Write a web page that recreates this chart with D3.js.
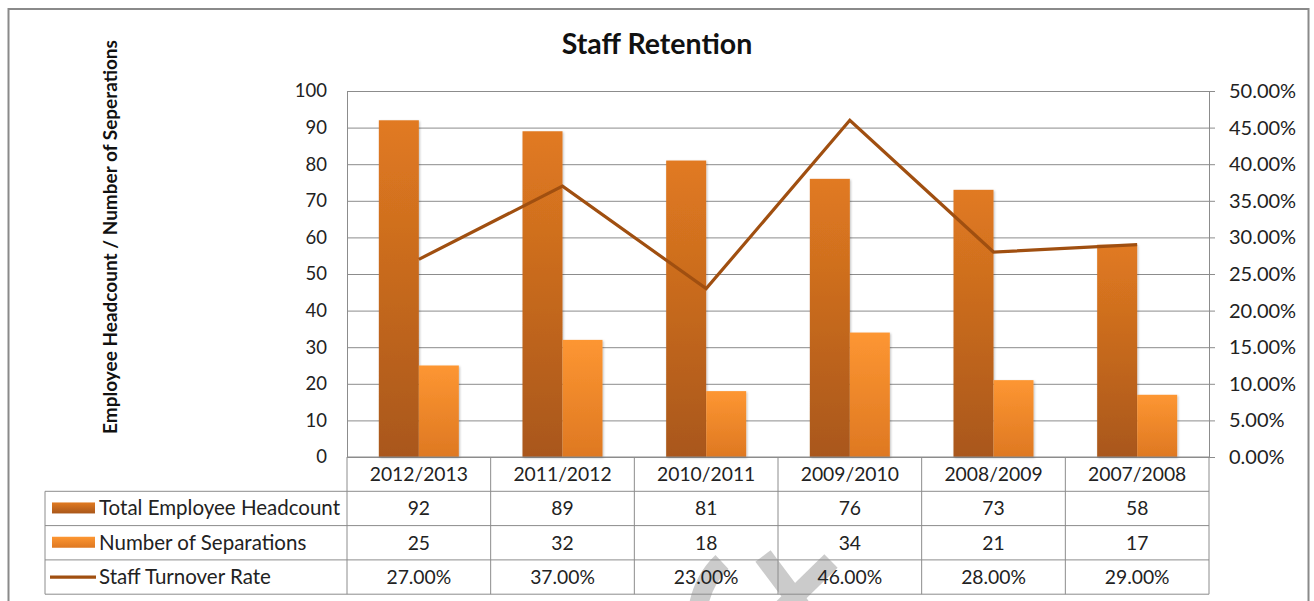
<!DOCTYPE html>
<html>
<head>
<meta charset="utf-8">
<script src="https://cdn.jsdelivr.net/npm/d3@7"></script>
<style>
  body { margin: 0; background: #fff; }
  svg { display: block; font-family: Lato, "Open Sans", sans-serif; }
</style>
</head>
<body>
<div id="container"></div>
<script>
const categories = ["2012/2013", "2011/2012", "2010/2011", "2009/2010", "2008/2009", "2007/2008"];
const headcount = [92, 89, 81, 76, 73, 58];
const separations = [25, 32, 18, 34, 21, 17];
const turnover = [0.27, 0.37, 0.23, 0.46, 0.28, 0.29];
const seriesNames = ["Total Employee Headcount", "Number of Separations", "Staff Turnover Rate"];
const leftTicks = [0, 10, 20, 30, 40, 50, 60, 70, 80, 90, 100];
const rightTicks = [0, 0.05, 0.10, 0.15, 0.20, 0.25, 0.30, 0.35, 0.40, 0.45, 0.50];

const W = 1314, H = 601;
const plot = { left: 347, right: 1209, top: 91, bottom: 457 };
const rowH = 34.3;
const tableLeft = 45;

const svg = d3.select("#container").append("svg")
    .attr("width", W)
    .attr("height", H);

const defs = svg.append("defs");
function vGrad(id, top, bottom) {
    const g = defs.append("linearGradient").attr("id", id)
        .attr("x1", 0).attr("y1", 0).attr("x2", 0).attr("y2", 1);
    g.append("stop").attr("offset", "0%").attr("stop-color", top);
    g.append("stop").attr("offset", "100%").attr("stop-color", bottom);
}
vGrad("gradHead", "#e17a21", "#a9571a");
vGrad("gradSep", "#fd9632", "#de7822");
const shadow = defs.append("filter").attr("id", "shadow")
    .attr("x", "-20%").attr("y", "-5%").attr("width", "140%").attr("height", "110%");
shadow.append("feDropShadow").attr("dx", 1).attr("dy", 1).attr("stdDeviation", 1.2)
    .attr("flood-color", "#000").attr("flood-opacity", 0.25);

// outer frame
svg.append("rect")
    .attr("x", 8.5).attr("y", 9)
    .attr("width", 1300).attr("height", 640)
    .attr("fill", "none")
    .attr("stroke", "#8a8a8a")
    .attr("stroke-width", 2);

const x = d3.scaleBand().domain(categories).range([plot.left, plot.right]);
const xInner = d3.scaleBand().domain(["head", "sep"]).range([0, x.bandwidth()])
    .paddingInner(0).paddingOuter(0.796);
const y = d3.scaleLinear().domain([0, 100]).range([plot.bottom, plot.top]);
const y2 = d3.scaleLinear().domain([0, 0.5]).range([plot.bottom, plot.top]);

// gridlines
svg.append("g")
    .attr("transform", `translate(${plot.left},0)`)
    .call(d3.axisLeft(y).tickValues(leftTicks).tickSize(-(plot.right - plot.left)).tickFormat(""))
    .call(g => g.select(".domain").remove())
    .call(g => g.selectAll("line").attr("stroke", "#8c8c8c"));

// left axis labels
svg.append("g")
    .attr("transform", `translate(${plot.left},0)`)
    .call(d3.axisLeft(y).tickValues(leftTicks).tickSize(0).tickPadding(20))
    .call(g => g.select(".domain").attr("stroke", "#8c8c8c"))
    .call(g => g.selectAll("text").attr("font-size", 18.5).attr("fill", "#222")
        .attr("font-family", "Lato, sans-serif"));

// right axis
svg.append("g")
    .attr("transform", `translate(${plot.right},0)`)
    .call(d3.axisRight(y2).tickValues(rightTicks).tickSize(6).tickPadding(14).tickFormat(d3.format(".2%")))
    .call(g => g.select(".domain").attr("stroke", "#8c8c8c"))
    .call(g => g.selectAll("line").attr("stroke", "#8c8c8c"))
    .call(g => g.selectAll("text").attr("font-size", 20).attr("fill", "#222")
        .attr("font-family", "Lato, sans-serif"));

// bars
const groups = svg.append("g").selectAll("g")
    .data(categories)
    .join("g")
    .attr("transform", d => `translate(${x(d)},0)`);

groups.append("rect")
    .attr("x", xInner("head"))
    .attr("width", xInner.bandwidth())
    .attr("y", (d, i) => y(headcount[i]))
    .attr("height", (d, i) => y(0) - y(headcount[i]))
    .attr("fill", "url(#gradHead)")
    .attr("filter", "url(#shadow)");

groups.append("rect")
    .attr("x", xInner("sep"))
    .attr("width", xInner.bandwidth())
    .attr("y", (d, i) => y(separations[i]))
    .attr("height", (d, i) => y(0) - y(separations[i]))
    .attr("fill", "url(#gradSep)")
    .attr("filter", "url(#shadow)");

// turnover line
const line = d3.line()
    .x((d, i) => x(categories[i]) + x.bandwidth() / 2)
    .y(d => y2(d));
svg.append("path")
    .datum(turnover)
    .attr("d", line)
    .attr("fill", "none")
    .attr("stroke", "#a04f10")
    .attr("stroke-width", 3.2)
    .attr("stroke-linejoin", "miter");

// title
svg.append("text")
    .attr("x", 657).attr("y", 54)
    .attr("text-anchor", "middle")
    .attr("font-size", 28.5)
    .attr("font-weight", "bold")
    .attr("fill", "#111")
    .text("Staff Retention");

// y axis title
svg.append("text")
    .attr("transform", "translate(117,237) rotate(-90)")
    .attr("text-anchor", "middle")
    .attr("font-size", 19)
    .attr("font-weight", "bold")
    .attr("fill", "#111")
    .text("Employee Headcount / Number of Seperations");

// watermark shapes
const wm = svg.append("g").attr("fill", "none").attr("stroke", "#c6c6c6")
    .attr("stroke-width", 19).attr("opacity", 0.9);
wm.append("path").attr("d", "M698,608 Q703,580 722,562");
wm.append("path").attr("d", "M763,556 L802,608");
wm.append("path").attr("d", "M831,561 L783,608");

// data table
const table = svg.append("g");
const gridColor = "#8c8c8c";
const rowsY = d3.range(5).map(i => plot.bottom + i * rowH);

table.selectAll(".hline")
    .data(rowsY)
    .join("line")
    .attr("x1", (d, i) => i === 0 ? plot.left : tableLeft)
    .attr("x2", plot.right)
    .attr("y1", d => d).attr("y2", d => d)
    .attr("stroke", gridColor);

const vlines = categories.map(c => x(c)).concat([plot.right]);
table.selectAll(".vline")
    .data(vlines)
    .join("line")
    .attr("x1", d => d).attr("x2", d => d)
    .attr("y1", plot.bottom).attr("y2", rowsY[4])
    .attr("stroke", gridColor);
table.append("line")
    .attr("x1", tableLeft).attr("x2", tableLeft)
    .attr("y1", rowsY[1]).attr("y2", rowsY[4])
    .attr("stroke", gridColor);

const rowValues = [
    categories,
    headcount.map(String),
    separations.map(String),
    turnover.map(d3.format(".2%"))
];
rowValues.forEach((vals, r) => {
    table.selectAll(`.cell${r}`)
        .data(vals)
        .join("text")
        .attr("x", (d, i) => x(categories[i]) + x.bandwidth() / 2)
        .attr("y", rowsY[r] + rowH / 2 + 7)
        .attr("text-anchor", "middle")
        .attr("font-size", 19.3)
        .attr("fill", "#222")
        .text(d => d);
});

// legend keys + names
seriesNames.forEach((name, i) => {
    const cy = rowsY[i + 1] + rowH / 2;
    if (i < 2) {
        table.append("rect")
            .attr("x", 52).attr("y", cy - 6)
            .attr("width", 43).attr("height", 11)
            .attr("fill", i === 0 ? "url(#gradHead)" : "url(#gradSep)");
    } else {
        table.append("line")
            .attr("x1", 50).attr("x2", 96)
            .attr("y1", cy).attr("y2", cy)
            .attr("stroke", "#a04f10")
            .attr("stroke-width", 3.2);
    }
    table.append("text")
        .attr("x", 99)
        .attr("y", cy + 7)
        .attr("font-size", 20.5)
        .attr("fill", "#222")
        .text(name);
});
</script>
</body>
</html>
